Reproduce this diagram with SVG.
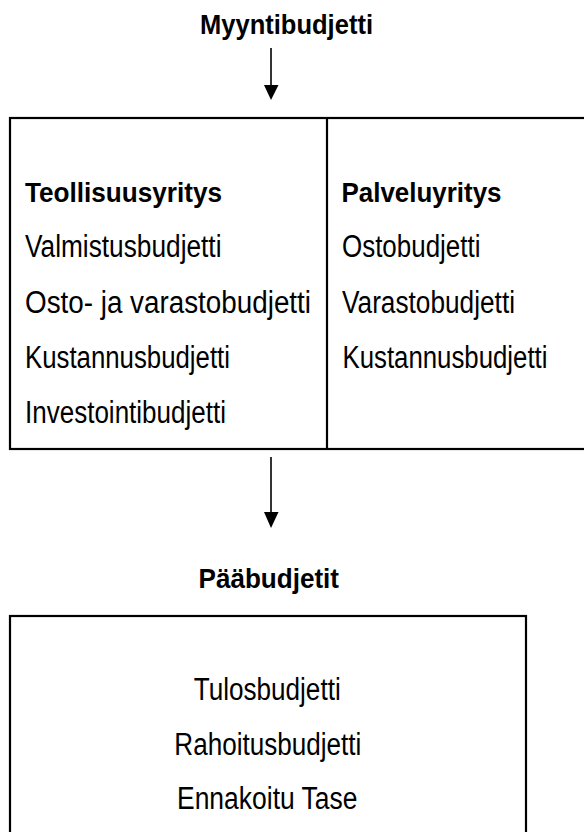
<svg xmlns="http://www.w3.org/2000/svg" width="584" height="832" viewBox="0 0 584 832">
<style>
  .box { fill: none; stroke: #000; stroke-width: 2.2; }
  .conn { stroke: #000; stroke-width: 1.6; fill: none; }
  .head { fill: #000; }
  text { font-family: "Liberation Sans", Arial, sans-serif; fill: #000; }
  .h { font-weight: bold; font-size: 28.5px; }
  .t { font-size: 31px; }
</style>
<rect width="584" height="832" fill="#fff"/>
<g id="myyntibudjetti">
  <text class="h" x="200" y="33.5" textLength="173" lengthAdjust="spacingAndGlyphs">Myyntibudjetti</text>
</g>
<g id="connectors">
  <line class="conn" x1="271" y1="48" x2="271" y2="87"/>
  <polygon class="head" points="264,85 278.5,85 271,100"/>
  <line class="conn" x1="271" y1="457" x2="271" y2="514"/>
  <polygon class="head" points="264,512 278.5,512 271,528"/>
</g>
<g id="tukibudjetit">
  <rect class="box" x="10" y="118" width="600" height="331"/>
  <line class="box" x1="327" y1="118" x2="327" y2="449"/>
  <g id="teollisuusyritys">
    <text class="h" x="25" y="202" textLength="197" lengthAdjust="spacingAndGlyphs">Teollisuusyritys</text>
    <text class="t" x="25" y="257" textLength="196.5" lengthAdjust="spacingAndGlyphs">Valmistusbudjetti</text>
    <text class="t" x="25" y="312.5" textLength="286" lengthAdjust="spacingAndGlyphs">Osto-  ja  varastobudjetti</text>
    <text class="t" x="25" y="367.5" textLength="205" lengthAdjust="spacingAndGlyphs">Kustannusbudjetti</text>
    <text class="t" x="25" y="423" textLength="201" lengthAdjust="spacingAndGlyphs">Investointibudjetti</text>
  </g>
  <g id="palveluyritys">
    <text class="h" x="341.5" y="202" textLength="160" lengthAdjust="spacingAndGlyphs">Palveluyritys</text>
    <text class="t" x="342" y="257" textLength="138.5" lengthAdjust="spacingAndGlyphs">Ostobudjetti</text>
    <text class="t" x="342" y="312.5" textLength="173" lengthAdjust="spacingAndGlyphs">Varastobudjetti</text>
    <text class="t" x="342.5" y="367.5" textLength="205" lengthAdjust="spacingAndGlyphs">Kustannusbudjetti</text>
  </g>
</g>
<g id="paabudjetit">
  <text class="h" x="198.5" y="588" textLength="140.5" lengthAdjust="spacingAndGlyphs">Pääbudjetit</text>
  <rect class="box" x="10" y="616" width="516" height="260"/>
  <text class="t" x="193.7" y="700" textLength="147" lengthAdjust="spacingAndGlyphs">Tulosbudjetti</text>
  <text class="t" x="174.3" y="755" textLength="187" lengthAdjust="spacingAndGlyphs">Rahoitusbudjetti</text>
  <text class="t" x="177" y="808.5" textLength="180.5" lengthAdjust="spacingAndGlyphs">Ennakoitu Tase</text>
</g>
</svg>
